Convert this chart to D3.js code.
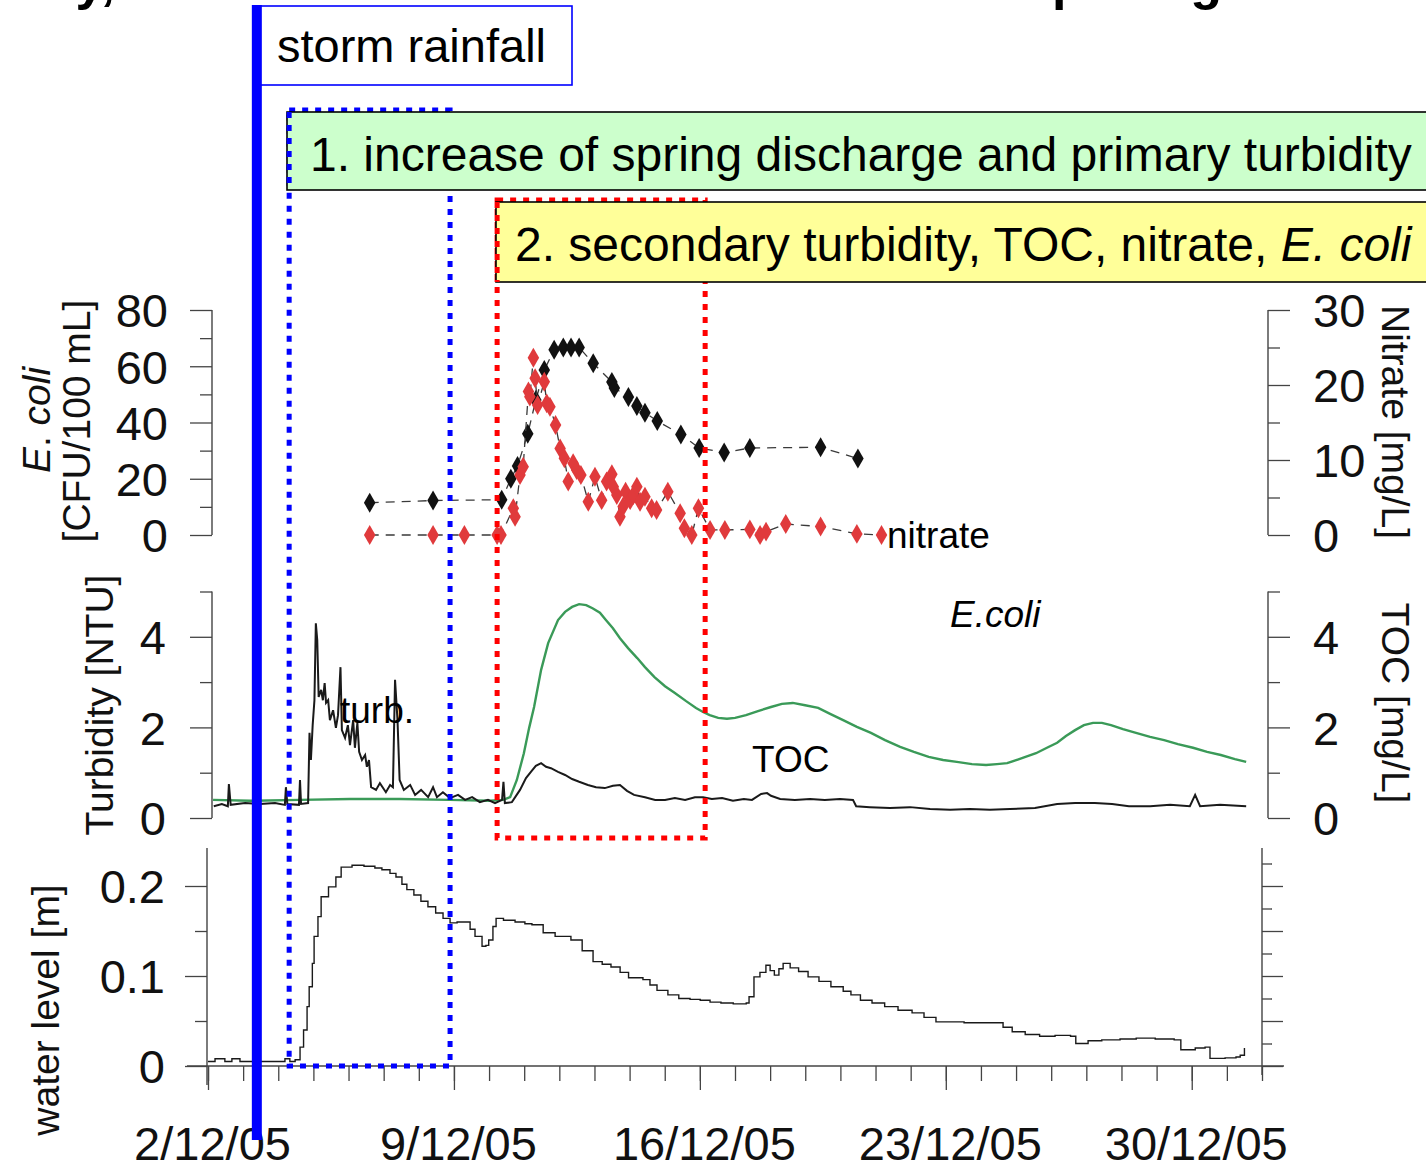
<!DOCTYPE html>
<html>
<head>
<meta charset="utf-8">
<script src="https://cdn.jsdelivr.net/npm/d3@7"></script>
<style>
  html, body { margin: 0; padding: 0; background: #fff; }
  svg { display: block; font-family: "Liberation Sans", Arial, sans-serif; }
</style>
</head>
<body>
<svg id="chart" width="1426" height="1167"></svg>
<script>
// ---- data: times are decimal days of December 2005 ----
const nitrateDays = [6.48, 8.28, 10.23, 10.49, 10.68, 10.97, 11.20, 11.44, 11.72, 11.98, 12.20, 12.43, 12.83, 13.36, 13.43, 13.83, 14.07, 14.30, 14.65, 15.32, 15.84, 16.55, 17.28, 19.29, 20.35];
const nitrateValues = [4.3, 4.6, 4.7, 7.5, 9.2, 13.5, 18.0, 22.0, 24.7, 25.0, 25.0, 25.0, 22.9, 20.4, 19.6, 18.4, 17.2, 16.3, 15.2, 13.4, 11.6, 11.0, 11.6, 11.7, 10.2];

const ecoliDays = [6.48, 8.28, 9.17, 10.10, 10.21, 10.56, 10.61, 10.75, 10.84, 10.99, 11.03, 11.13, 11.18, 11.25, 11.44, 11.51, 11.60, 11.76, 11.89, 12.01, 12.12, 12.26, 12.36, 12.48, 12.69, 12.88, 13.07, 13.21, 13.36, 13.40, 13.50, 13.59, 13.68, 13.75, 13.88, 13.97, 14.07, 14.16, 14.30, 14.49, 14.63, 14.95, 15.30, 15.42, 15.63, 15.82, 16.15, 16.57, 17.28, 17.57, 17.74, 18.30, 19.29, 20.32, 21.02];
const ecoliValues = [0, 0, 0, 0, 0, 9.5, 6.5, 21.3, 24.3, 51.0, 49.2, 63.0, 55.7, 46.2, 54.5, 46.8, 45.6, 39.1, 30.8, 27.3, 19.0, 25.5, 23.1, 21.3, 11.8, 20.7, 12.4, 19.0, 21.6, 17.2, 14.2, 6.5, 10.1, 15.4, 12.4, 14.2, 17.2, 11.8, 13.6, 9.5, 8.9, 15.4, 7.7, 2.4, 0, 9.5, 1.8, 1.8, 2.0, 0, 1.2, 3.9, 3.0, 0.4, 0];

const turbDays = [2.05, 2.28, 2.45, 2.48, 2.53, 2.94, 3.36, 3.79, 4.07, 4.10, 4.14, 4.47, 4.50, 4.53, 4.73, 4.77, 4.81, 4.86, 4.91, 4.95, 4.99, 5.03, 5.10, 5.15, 5.20, 5.24, 5.30, 5.35, 5.44, 5.52, 5.58, 5.65, 5.69, 5.78, 5.86, 5.92, 6.01, 6.06, 6.13, 6.18, 6.26, 6.35, 6.40, 6.46, 6.52, 6.66, 6.77, 6.94, 7.06, 7.14, 7.20, 7.27, 7.33, 7.45, 7.63, 7.77, 7.94, 8.14, 8.28, 8.39, 8.56, 8.76, 8.99, 9.19, 9.39, 9.61, 9.84, 10.04, 10.24, 10.28, 10.32, 10.52, 10.75, 10.92, 11.06, 11.20, 11.35, 11.49, 11.63, 11.83, 12.03, 12.23, 12.43, 12.68, 12.91, 13.16, 13.39, 13.59, 13.79, 13.99, 14.30, 14.59, 14.87, 15.15, 15.44, 15.72, 15.95, 16.20, 16.49, 16.80, 17.11, 17.34, 17.60, 17.77, 17.88, 18.14, 18.56, 18.99, 19.41, 19.84, 20.21, 20.30, 20.69, 21.26, 21.83, 22.40, 22.97, 23.53, 24.10, 24.67, 25.38, 26.01, 26.52, 27.08, 27.57, 28.05, 28.65, 29.22, 29.78, 29.93, 30.07, 30.64, 31.38];
const turbValues = [0.26, 0.31, 0.26, 0.75, 0.29, 0.33, 0.31, 0.33, 0.29, 0.68, 0.31, 0.29, 0.84, 0.31, 0.33, 1.88, 1.28, 2.05, 2.6, 4.3, 3.93, 2.67, 2.83, 2.6, 2.98, 2.54, 2.6, 2.16, 2.38, 1.99, 2.27, 3.33, 1.94, 1.77, 2.05, 1.61, 2.16, 1.55, 2.1, 1.46, 1.28, 1.39, 1.13, 1.28, 0.68, 0.62, 0.77, 0.57, 0.73, 0.68, 3.05, 2.16, 0.84, 0.62, 0.73, 0.51, 0.62, 0.46, 0.68, 0.46, 0.57, 0.44, 0.51, 0.4, 0.46, 0.35, 0.4, 0.33, 0.4, 0.8, 0.33, 0.35, 0.62, 0.88, 1.02, 1.15, 1.21, 1.13, 1.1, 1.02, 0.95, 0.86, 0.8, 0.73, 0.68, 0.66, 0.71, 0.73, 0.6, 0.51, 0.46, 0.4, 0.4, 0.44, 0.4, 0.46, 0.46, 0.42, 0.44, 0.38, 0.42, 0.4, 0.53, 0.55, 0.49, 0.42, 0.4, 0.42, 0.4, 0.42, 0.4, 0.26, 0.24, 0.22, 0.24, 0.2, 0.18, 0.2, 0.18, 0.2, 0.22, 0.31, 0.33, 0.33, 0.31, 0.26, 0.26, 0.29, 0.26, 0.51, 0.26, 0.29, 0.26];

const tocDays = [2.03, 3.08, 4.50, 5.92, 7.34, 8.76, 9.90, 10.27, 10.47, 10.66, 10.86, 11.01, 11.15, 11.35, 11.55, 11.83, 12.03, 12.23, 12.43, 12.63, 12.81, 13.02, 13.19, 13.39, 13.59, 13.82, 14.08, 14.30, 14.57, 14.87, 15.15, 15.47, 15.75, 15.95, 16.14, 16.38, 16.63, 16.86, 17.17, 17.51, 17.88, 18.19, 18.50, 18.85, 19.22, 19.56, 19.93, 20.32, 20.72, 21.12, 21.55, 21.94, 22.36, 22.77, 23.16, 23.59, 23.99, 24.30, 24.59, 25.01, 25.41, 25.72, 26.01, 26.26, 26.52, 26.77, 27.03, 27.28, 27.54, 27.88, 28.25, 28.65, 29.05, 29.44, 29.87, 30.27, 30.66, 31.06, 31.38];
const tocValues = [0.40, 0.38, 0.40, 0.42, 0.42, 0.40, 0.38, 0.40, 0.46, 0.84, 1.43, 1.99, 2.45, 3.27, 3.86, 4.37, 4.55, 4.66, 4.72, 4.70, 4.63, 4.53, 4.37, 4.19, 3.97, 3.75, 3.53, 3.33, 3.11, 2.91, 2.76, 2.58, 2.43, 2.34, 2.27, 2.21, 2.19, 2.21, 2.27, 2.36, 2.45, 2.52, 2.54, 2.49, 2.43, 2.30, 2.16, 2.01, 1.88, 1.72, 1.57, 1.46, 1.35, 1.28, 1.24, 1.19, 1.17, 1.19, 1.21, 1.32, 1.43, 1.55, 1.66, 1.81, 1.94, 2.05, 2.10, 2.10, 2.05, 1.96, 1.88, 1.79, 1.72, 1.63, 1.55, 1.46, 1.39, 1.30, 1.24];

const levelDays = [2.00, 2.20, 2.48, 2.68, 2.91, 4.05, 4.19, 4.33, 4.48, 4.62, 4.72, 4.82, 4.88, 4.97, 5.02, 5.13, 5.22, 5.43, 5.64, 5.79, 6.10, 6.44, 6.75, 6.95, 7.18, 7.35, 7.52, 7.66, 7.86, 8.06, 8.26, 8.48, 8.69, 8.89, 9.09, 9.29, 9.46, 9.60, 9.80, 9.91, 9.99, 10.11, 10.20, 10.41, 10.74, 11.02, 11.22, 11.54, 11.88, 12.33, 12.65, 12.96, 13.22, 13.47, 13.73, 13.97, 14.38, 14.58, 14.78, 15.09, 15.40, 15.72, 16.01, 16.29, 16.60, 16.95, 17.32, 17.40, 17.54, 17.71, 17.88, 18.00, 18.12, 18.25, 18.37, 18.57, 18.81, 19.08, 19.39, 19.73, 20.08, 20.30, 20.57, 20.90, 21.26, 21.64, 22.04, 22.38, 22.72, 23.12, 23.52, 23.98, 24.40, 24.63, 24.89, 25.26, 25.67, 26.11, 26.55, 26.70, 27.05, 27.44, 27.96, 28.42, 28.96, 29.50, 29.69, 30.10, 30.38, 30.52, 30.95, 31.26, 31.38, 31.50];
const levelValues = [0.005, 0.008, 0.005, 0.008, 0.005, 0.005, 0.008, 0.005, 0.007, 0.021, 0.040, 0.066, 0.088, 0.114, 0.144, 0.166, 0.188, 0.199, 0.210, 0.221, 0.223, 0.222, 0.220, 0.218, 0.214, 0.210, 0.202, 0.196, 0.190, 0.183, 0.177, 0.170, 0.164, 0.159, 0.160, 0.160, 0.152, 0.144, 0.133, 0.134, 0.140, 0.155, 0.164, 0.162, 0.160, 0.158, 0.157, 0.148, 0.144, 0.140, 0.128, 0.116, 0.113, 0.110, 0.104, 0.098, 0.096, 0.090, 0.084, 0.079, 0.075, 0.074, 0.073, 0.071, 0.070, 0.069, 0.070, 0.077, 0.099, 0.104, 0.112, 0.106, 0.101, 0.108, 0.114, 0.109, 0.105, 0.099, 0.094, 0.088, 0.083, 0.079, 0.073, 0.070, 0.066, 0.062, 0.059, 0.054, 0.049, 0.049, 0.048, 0.048, 0.048, 0.043, 0.038, 0.035, 0.033, 0.034, 0.033, 0.025, 0.028, 0.029, 0.030, 0.031, 0.030, 0.029, 0.018, 0.020, 0.021, 0.0085, 0.009, 0.010, 0.012, 0.020];

// event markers (decimal December days)
const rainfallDay = 3.39;
const phase1Days = [4.31, 8.89];
const phase2Days = [10.10, 16.01];

// axis ticks
const dateTickDays = [2, 9, 16, 23, 30];
const dateTickLabels = ["2/12/05", "9/12/05", "16/12/05", "23/12/05", "30/12/05"];
const ecoliTicks = [0, 20, 40, 60, 80];
const ecoliMinor = [10, 30, 50, 70];
const nitrateTicks = [0, 10, 20, 30];
const nitrateMinor = [5, 15, 25];
const turbTicks = [0, 2, 4];
const turbMinor = [1, 3, 5];
const levelTicks = [0, 0.1, 0.2];
const levelMinor = [0.05, 0.15];
const levelRightMajor = [0, 0.05, 0.1, 0.15, 0.2];
const levelRightMinor = [0.025, 0.075, 0.125, 0.175, 0.225];

// ---- helpers ----
const dec = d => new Date(new Date(2005, 11, 1).getTime() + (d - 1) * 864e5);
const zip = (days, vals) => days.map((d, i) => ({ t: dec(d), v: vals[i] }));

const svg = d3.select("#chart");
svg.append("rect").attr("width", 1426).attr("height", 1167).attr("fill", "#fff");

// scales
const xMid = d3.scaleTime().domain([dec(2), dec(32)]).range([212, 1268]);
const xLow = d3.scaleTime().domain([dec(2), dec(32)]).range([208, 1262]);
const yEcoli = d3.scaleLinear().domain([0, 80]).range([535, 310]);
const yNitrate = d3.scaleLinear().domain([0, 30]).range([535, 310]);
const yTurb = d3.scaleLinear().domain([0, 5]).range([818, 591.5]);
const yToc = d3.scaleLinear().domain([0, 5]).range([818, 591.5]);
const yLevel = d3.scaleLinear().domain([0, 0.2]).range([1066, 886]);

const TICK_FONT = 47;

// ---- page heading, running off the top edge ----
const title = svg.append("text").attr("y", -1).attr("font-size", 52).attr("font-weight", "bold").attr("fill", "#000");
title.append("tspan").attr("x", -40).text("Study,");
title.append("tspan").attr("x", 1013).attr("letter-spacing", 10).text("spring");

// ---- axis builder ----
function vAxis(scale, side, x, major, minor, fmt, pad, majorLen, minorLen, showLabels) {
  const mk = side === "left" ? d3.axisLeft : d3.axisRight;
  const g = svg.append("g").attr("transform", `translate(${x},0)`);
  g.call(mk(scale).tickValues(major).tickSize(majorLen).tickSizeOuter(0).tickPadding(pad)
      .tickFormat(showLabels ? fmt : () => ""));
  g.append("g").call(mk(scale).tickValues(minor).tickSize(minorLen).tickSizeOuter(0).tickFormat(() => ""));
  g.selectAll("path.domain").remove();
  g.selectAll("line").attr("stroke", "#444").attr("stroke-width", 1.3);
  g.selectAll("text").attr("font-size", TICK_FONT).attr("fill", "#111")
    .attr("font-family", '"Liberation Sans", Arial, sans-serif').attr("dy", "0.36em");
  return g;
}
function vLine(x, y1, y2) {
  svg.append("line").attr("x1", x).attr("x2", x).attr("y1", y1).attr("y2", y2)
    .attr("stroke", "#444").attr("stroke-width", 1.4);
}

// upper panel axes
vLine(212, yEcoli(80), yEcoli(0));
vAxis(yEcoli, "left", 212, ecoliTicks, ecoliMinor, d3.format("d"), 22, 22, 12, true);
vLine(1268, yNitrate(30), yNitrate(0));
vAxis(yNitrate, "right", 1268, nitrateTicks, nitrateMinor, d3.format("d"), 23, 22, 12, true);

// middle panel axes
vLine(212, yTurb(5), yTurb(0));
vAxis(yTurb, "left", 212, turbTicks, turbMinor, d3.format("d"), 24, 22, 12, true);
vLine(1268, yToc(5), yToc(0));
vAxis(yToc, "right", 1268, turbTicks, turbMinor, d3.format("d"), 23, 22, 12, true);

// lower panel axes
vLine(207, 848, 1085);
vAxis(yLevel, "left", 207, levelTicks, levelMinor, v => v === 0 ? "0" : d3.format(".1f")(v), 20, 22, 12, true);
vLine(1262, 848, 1075);
vAxis(yLevel, "right", 1262, levelRightMajor, levelRightMinor, () => "", 0, 21, 10, false);

// time axis
svg.append("line").attr("x1", 187).attr("x2", 1284).attr("y1", yLevel(0)).attr("y2", yLevel(0))
  .attr("stroke", "#444").attr("stroke-width", 1.4);
const xg = svg.append("g").attr("transform", `translate(0,${yLevel(0)})`);
xg.append("g").call(d3.axisBottom(xLow).tickValues(d3.range(2, 33).map(dec)).tickSize(15).tickSizeOuter(0).tickFormat(() => ""));
xg.append("g").call(d3.axisBottom(xLow).tickValues(dateTickDays.map(dec)).tickSize(24).tickSizeOuter(0).tickPadding(37)
  .tickFormat((d, i) => dateTickLabels[i]));
xg.selectAll("path.domain").remove();
xg.selectAll("line").attr("stroke", "#444").attr("stroke-width", 1.3);
xg.selectAll("text").attr("font-size", TICK_FONT).attr("fill", "#111")
  .attr("font-family", '"Liberation Sans", Arial, sans-serif').attr("dx", 4);

// axis titles
function rotTitle(x, y, angle, parts) {
  const t = svg.append("text").attr("transform", `translate(${x},${y}) rotate(${angle})`)
    .attr("text-anchor", "middle").attr("dominant-baseline", "central")
    .attr("font-size", 39).attr("fill", "#111");
  parts.forEach(p => t.append("tspan").attr("font-style", p.italic ? "italic" : "normal").text(p.text));
}
rotTitle(36, 420, -90, [{ text: "E", italic: true }, { text: ". " }, { text: "coli", italic: true }]);
rotTitle(76, 421, -90, [{ text: "[CFU/100 mL]" }]);
rotTitle(99, 705, -90, [{ text: "Turbidity [NTU]" }]);
rotTitle(45, 1010, -90, [{ text: "water level [m]" }]);
rotTitle(1396, 422, 90, [{ text: "Nitrate [mg/L]" }]);
rotTitle(1396, 703, 90, [{ text: "TOC [mg/L]" }]);

// ---- series ----
const turb = zip(turbDays, turbValues);
const toc = zip(tocDays, tocValues);
const level = zip(levelDays, levelValues);
const nitrate = zip(nitrateDays, nitrateValues);
const ecoli = zip(ecoliDays, ecoliValues);

svg.append("path").datum(toc)
  .attr("d", d3.line().x(d => xMid(d.t)).y(d => yToc(d.v)))
  .attr("fill", "none").attr("stroke", "#3a9a58").attr("stroke-width", 2.4);
svg.append("path").datum(turb)
  .attr("d", d3.line().x(d => xMid(d.t)).y(d => yTurb(d.v)))
  .attr("fill", "none").attr("stroke", "#1a1a1a").attr("stroke-width", 2);
svg.append("path").datum(level)
  .attr("d", d3.line().curve(d3.curveStepAfter).x(d => xLow(d.t)).y(d => yLevel(d.v)))
  .attr("fill", "none").attr("stroke", "#1a1a1a").attr("stroke-width", 1.4);

// sampled series: dashed connectors with diamond markers
function sampled(data, y, fill) {
  svg.append("path").datum(data)
    .attr("d", d3.line().x(d => xMid(d.t)).y(d => y(d.v)))
    .attr("fill", "none").attr("stroke", "#3a3a3a").attr("stroke-width", 1.3)
    .attr("stroke-dasharray", "9,7");
  svg.append("g").selectAll("path").data(data).join("path")
    .attr("transform", d => `translate(${xMid(d.t)},${y(d.v)})`)
    .attr("d", d3.symbol(d3.symbolDiamond, 115))
    .attr("fill", fill);
}
sampled(nitrate, yNitrate, "#111");
sampled(ecoli, yEcoli, "#e03a3c");

// ---- series labels ----
const label = (x, y, text, italic) => svg.append("text").attr("x", x).attr("y", y)
  .attr("font-size", 37).attr("fill", "#000").attr("font-style", italic ? "italic" : "normal").text(text);
label(887, 548, "nitrate");
label(950, 627, "E.coli", true);
label(340, 723, "turb.");
label(752, 772, "TOC");

// ---- event annotations ----
const dotted = { width: 5, dash: "6,7" };
function dottedEdge(x, y1, y2, color) {
  svg.append("line").attr("x1", x).attr("x2", x).attr("y1", y1).attr("y2", y2)
    .attr("stroke", color).attr("stroke-width", dotted.width).attr("stroke-dasharray", dotted.dash);
}
// phase 1 window
const p1x0 = xLow(dec(phase1Days[0])), p1x1 = xLow(dec(phase1Days[1]));
svg.append("rect")
  .attr("x", p1x0).attr("y", 110).attr("width", p1x1 - p1x0).attr("height", yLevel(0) - 110)
  .attr("fill", "none").attr("stroke", "#0000ff").attr("stroke-width", dotted.width)
  .attr("stroke-dasharray", dotted.dash);
svg.append("rect").attr("x", 287).attr("y", 112).attr("width", 1160).attr("height", 78)
  .attr("fill", "#ccffcc").attr("stroke", "#000").attr("stroke-width", 1.6);
dottedEdge(p1x0, 112, 190, "#0000ff");
svg.append("text").attr("x", 310).attr("y", 171).attr("font-size", 48).attr("fill", "#000")
  .text("1. increase of spring discharge and primary turbidity");

// phase 2 window
const p2x0 = xMid(dec(phase2Days[0])), p2x1 = xMid(dec(phase2Days[1]));
svg.append("rect")
  .attr("x", p2x0).attr("y", 200).attr("width", p2x1 - p2x0).attr("height", 838 - 200)
  .attr("fill", "none").attr("stroke", "#ff0000").attr("stroke-width", dotted.width)
  .attr("stroke-dasharray", dotted.dash);
svg.append("rect").attr("x", 496).attr("y", 202).attr("width", 950).attr("height", 80)
  .attr("fill", "#ffff99").attr("stroke", "#000").attr("stroke-width", 1.6);
dottedEdge(p2x0, 202, 282, "#ff0000");
const t2 = svg.append("text").attr("x", 515).attr("y", 261).attr("font-size", 48).attr("fill", "#000");
t2.append("tspan").text("2. secondary turbidity, TOC, nitrate, ");
t2.append("tspan").attr("font-style", "italic").text("E. coli");

// storm rainfall marker
svg.append("rect").attr("x", xLow(dec(rainfallDay))).attr("y", 6).attr("width", 572 - xLow(dec(rainfallDay))).attr("height", 79)
  .attr("fill", "#fff").attr("stroke", "#0000ff").attr("stroke-width", 1.6);
svg.append("text").attr("x", 277).attr("y", 62).attr("font-size", 47).attr("fill", "#000").text("storm rainfall");
svg.append("line").attr("x1", xLow(dec(rainfallDay))).attr("x2", xLow(dec(rainfallDay)))
  .attr("y1", 5).attr("y2", 1140).attr("stroke", "#0000ff").attr("stroke-width", 10);
</script>
</body>
</html>
